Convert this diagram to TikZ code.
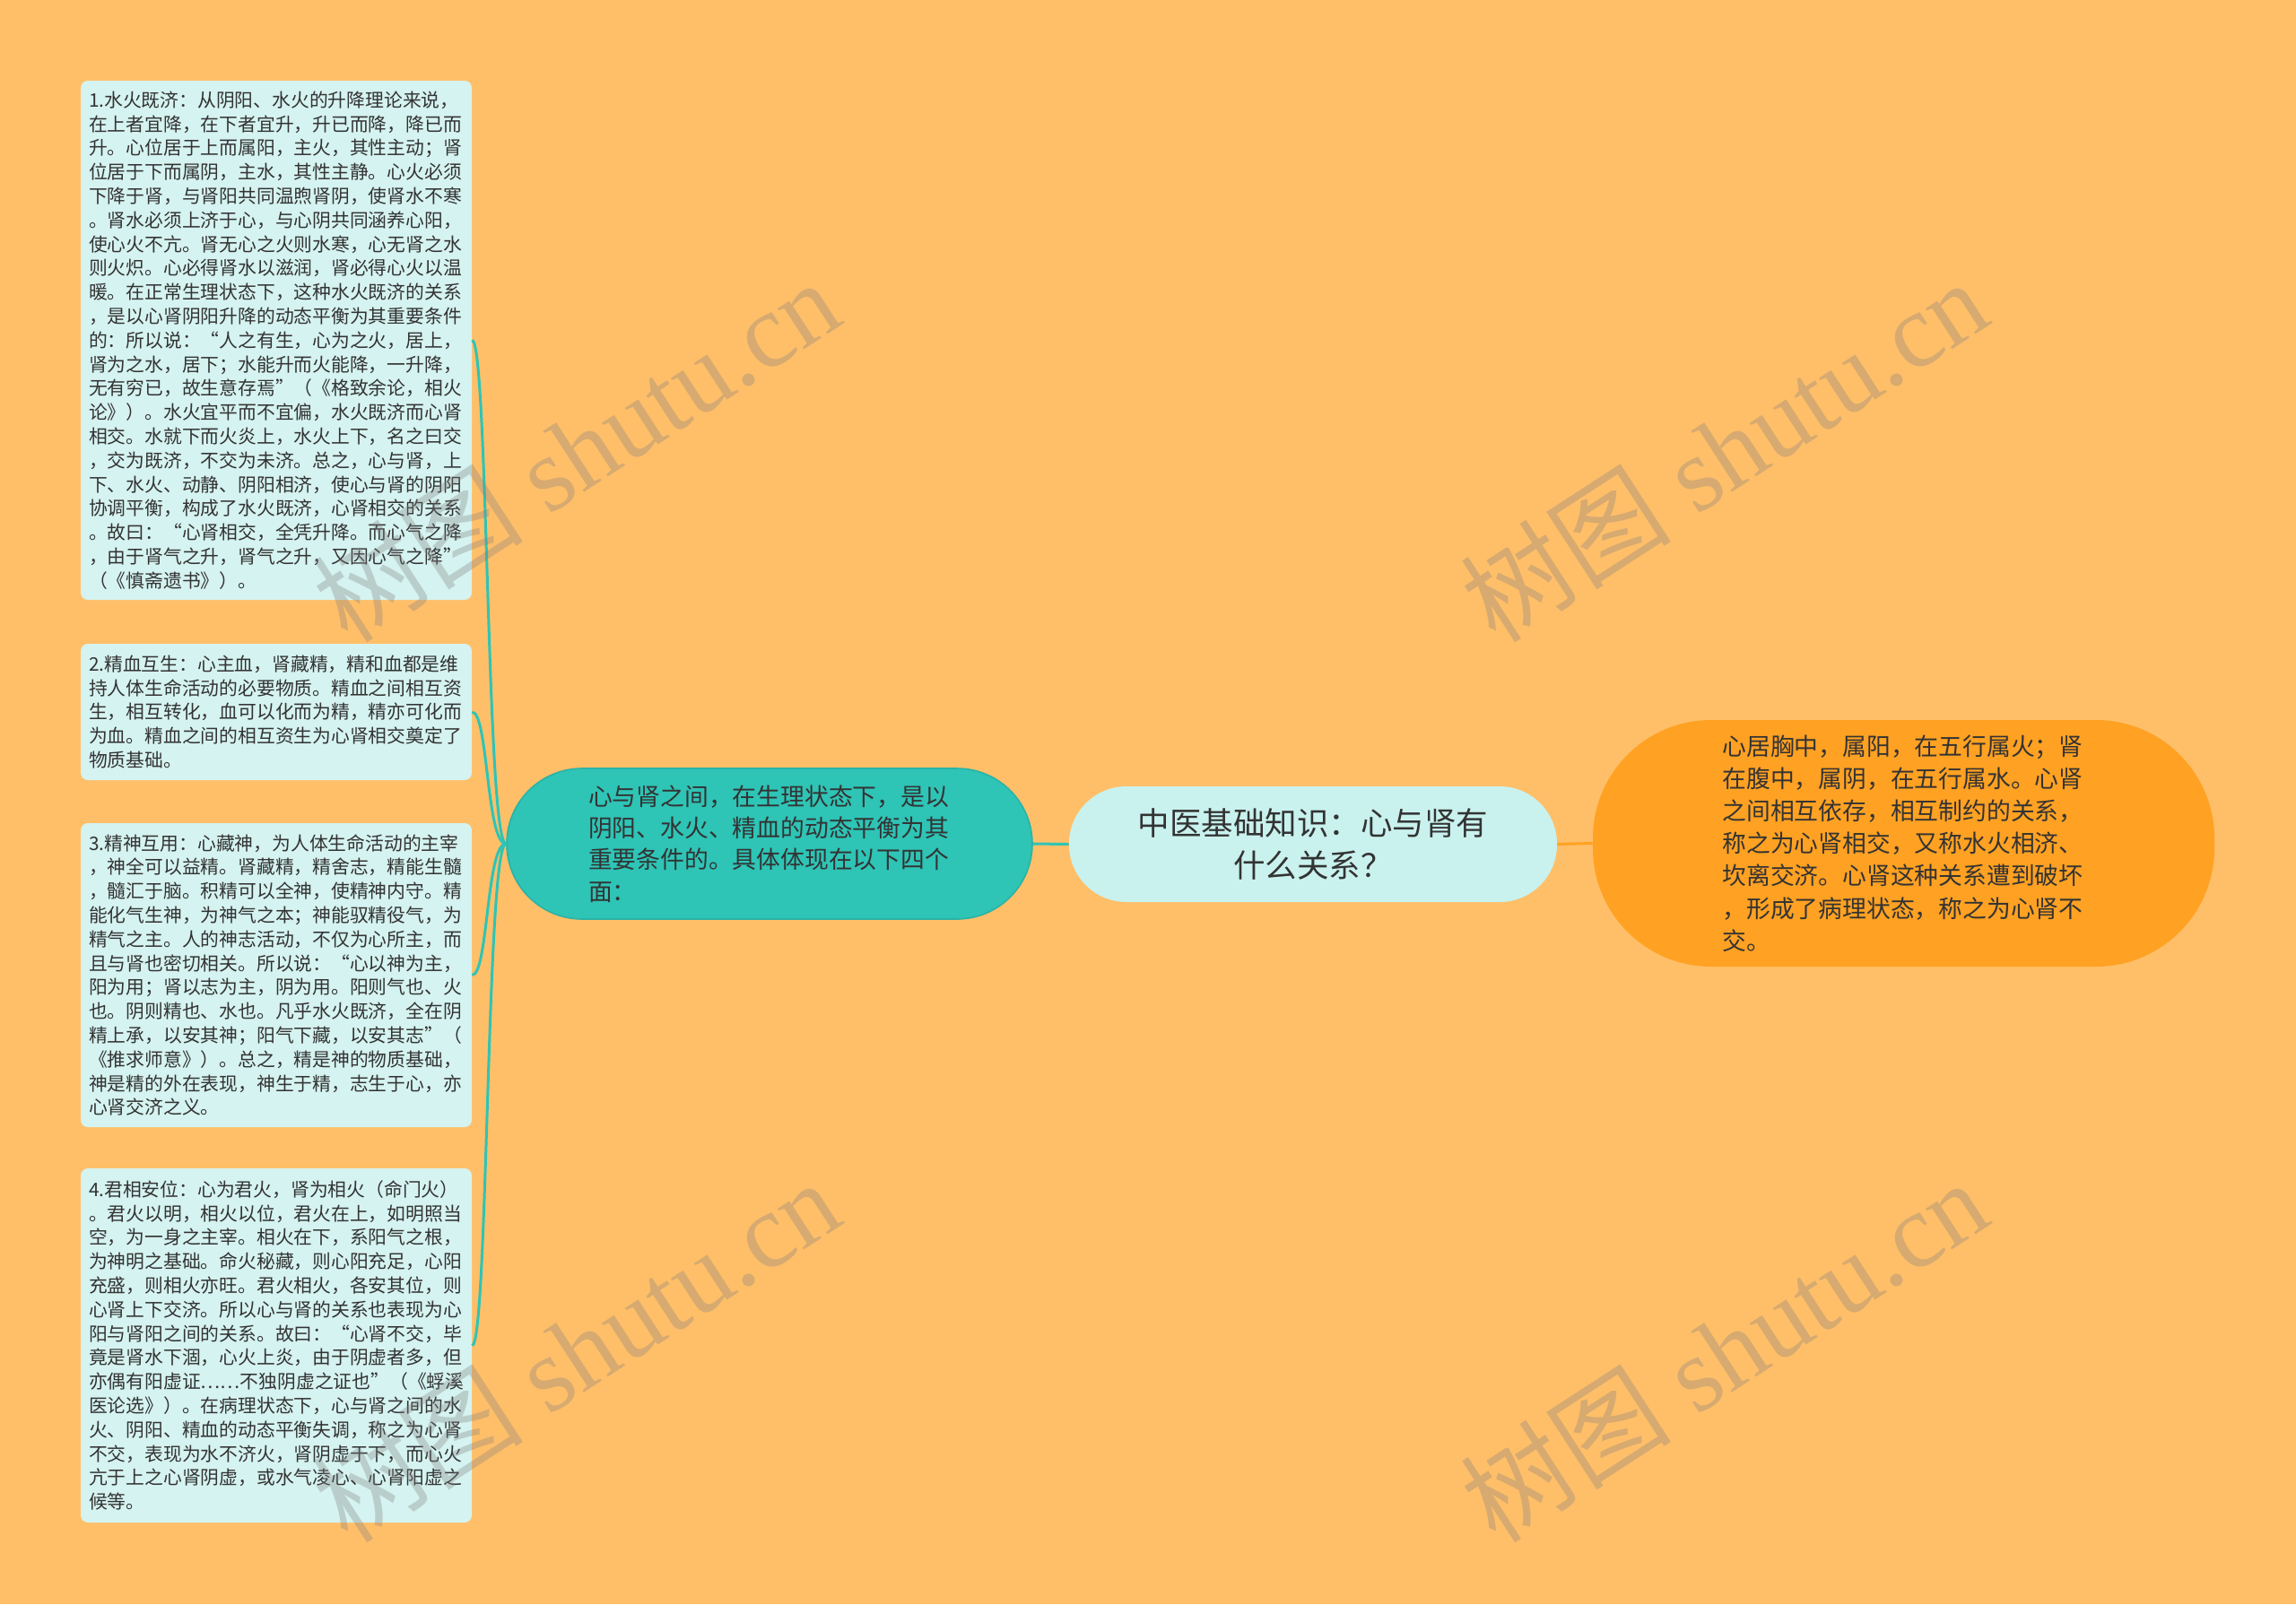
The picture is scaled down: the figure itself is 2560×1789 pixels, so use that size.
\documentclass[tikz,border=0pt]{standalone}
\usepackage{fontspec}
\setmainfont{Noto Sans CJK SC}
\newfontfamily\wmlatin{Liberation Serif}
\newfontfamily\wmcjk{Noto Sans CJK SC}
\definecolor{bgc}{HTML}{FFBF69}
\definecolor{leaffill}{HTML}{D5F3F0}
\definecolor{centfill}{HTML}{C9F2EE}
\definecolor{tealc}{HTML}{2EC4B6}
\definecolor{tealedge}{HTML}{2BB3A6}
\definecolor{orangec}{HTML}{FFA122}
\definecolor{textdark}{HTML}{333333}
\begin{document}
\begin{tikzpicture}[x=0.5pt,y=-0.5pt,
  leafbox/.style={fill=leaffill, rounded corners=4pt, text width=209pt, inner xsep=4.5pt, inner ysep=0pt,
    align=left, text=textdark, font={\fontsize{10.4pt}{13.4pt}\selectfont}},
  tealbox/.style={fill=tealc, draw=tealedge, line width=0.8pt, rounded corners=42pt, text width=202pt,
    inner xsep=45.5pt, inner ysep=0pt, minimum height=84pt, align=left, text=textdark,
    font={\fontsize{13.4pt}{17.7pt}\selectfont}},
  centbox/.style={fill=centfill, rounded corners=32pt, text width=200pt, inner xsep=36pt, inner ysep=0pt,
    minimum height=64.5pt, align=center, text=textdark, font={\fontsize{17.75pt}{23.5pt}\selectfont}},
  orangebox/.style={fill=orangec, rounded corners=66pt, text width=202pt, inner xsep=72.25pt, inner ysep=0pt,
    minimum height=137.5pt, align=left, text=textdark, font={\fontsize{13.4pt}{18.1pt}\selectfont}},
  tealline/.style={draw=tealc, line width=1.5pt},
  orangeline/.style={draw=orangec, line width=1.5pt},
  watermark/.style={text=gray, opacity=0.32, rotate=33, inner sep=0pt,
    font={\fontsize{59pt}{59pt}\selectfont}}
]
\useasboundingbox (0,0) rectangle (2560,1789);
\fill[bgc] (0,0) rectangle (2560,1789);

\node[leafbox, minimum height=289.5pt] (b1) at (308,379.5) {1.水火既济：从阴阳、水火的升降理论来说，\\在上者宜降，在下者宜升，升已而降，降已而\\升。心位居于上而属阳，主火，其性主动；肾\\位居于下而属阴，主水，其性主静。心火必须\\下降于肾，与肾阳共同温煦肾阴，使肾水不寒\\。肾水必须上济于心，与心阴共同涵养心阳，\\使心火不亢。肾无心之火则水寒，心无肾之水\\则火炽。心必得肾水以滋润，肾必得心火以温\\暖。在正常生理状态下，这种水火既济的关系\\，是以心肾阴阳升降的动态平衡为其重要条件\\的：所以说：“人之有生，心为之火，居上，\\肾为之水，居下；水能升而火能降，一升降，\\无有穷已，故生意存焉”（《格致余论，相火\\论》）。水火宜平而不宜偏，水火既济而心肾\\相交。水就下而火炎上，水火上下，名之曰交\\，交为既济，不交为未济。总之，心与肾，上\\下、水火、动静、阴阳相济，使心与肾的阴阳\\协调平衡，构成了水火既济，心肾相交的关系\\。故曰：“心肾相交，全凭升降。而心气之降\\，由于肾气之升，肾气之升，又因心气之降”\\（《慎斋遗书》）。};

\node[leafbox, minimum height=76pt] (b2) at (308,794) {2.精血互生：心主血，肾藏精，精和血都是维\\持人体生命活动的必要物质。精血之间相互资\\生，相互转化，血可以化而为精，精亦可化而\\为血。精血之间的相互资生为心肾相交奠定了\\物质基础。};

\node[leafbox, minimum height=169.5pt] (b3) at (308,1087.5) {3.精神互用：心藏神，为人体生命活动的主宰\\，神全可以益精。肾藏精，精舍志，精能生髓\\，髓汇于脑。积精可以全神，使精神内守。精\\能化气生神，为神气之本；神能驭精役气，为\\精气之主。人的神志活动，不仅为心所主，而\\且与肾也密切相关。所以说：“心以神为主，\\阳为用；肾以志为主，阴为用。阳则气也、火\\也。阴则精也、水也。凡乎水火既济，全在阴\\精上承，以安其神；阳气下藏，以安其志”（\\《推求师意》）。总之，精是神的物质基础，\\神是精的外在表现，神生于精，志生于心，亦\\心肾交济之义。};

\node[leafbox, minimum height=197.5pt] (b4) at (308,1500.5) {4.君相安位：心为君火，肾为相火（命门火）\\。君火以明，相火以位，君火在上，如明照当\\空，为一身之主宰。相火在下，系阳气之根，\\为神明之基础。命火秘藏，则心阳充足，心阳\\充盛，则相火亦旺。君火相火，各安其位，则\\心肾上下交济。所以心与肾的关系也表现为心\\阳与肾阳之间的关系。故曰：“心肾不交，毕\\竟是肾水下涸，心火上炎，由于阴虚者多，但\\亦偶有阳虚证……不独阴虚之证也”（《蜉溪\\医论选》）。在病理状态下，心与肾之间的水\\火、阴阳、精血的动态平衡失调，称之为心肾\\不交，表现为水不济火，肾阴虚于下，而心火\\亢于上之心肾阴虚，或水气凌心、心肾阳虚之\\候等。};

\node[tealbox] (teal) at (858,941) {心与肾之间，在生理状态下，是以\\阴阳、水火、精血的动态平衡为其\\重要条件的。具体体现在以下四个\\面：};

\node[centbox] (cent) at (1464,941.5) {中医基础知识：心与肾有\\什么关系？};

\node[orangebox] (right) at (2122.5,940.5) {心居胸中，属阳，在五行属火；肾\\在腹中，属阴，在五行属水。心肾\\之间相互依存，相互制约的关系，\\称之为心肾相交，又称水火相济、\\坎离交济。心肾这种关系遭到破坏\\，形成了病理状态，称之为心肾不\\交。};

\draw[tealline] (cent.west) -- (teal.east);
\draw[orangeline] (cent.east) -- (right.west);
\foreach \b in {b1,b2,b3,b4}{
  \draw[tealline] (teal.west) .. controls +(-22,0) and +(18,0) .. (\b.east);
}

\node[watermark] (wm1) at (642,502) {\wmcjk 树图\wmlatin{} shutu.cn};
\node[watermark] (wm2) at (1922,502) {\wmcjk 树图\wmlatin{} shutu.cn};
\node[watermark] (wm3) at (642,1506) {\wmcjk 树图\wmlatin{} shutu.cn};
\node[watermark] (wm4) at (1922,1506) {\wmcjk 树图\wmlatin{} shutu.cn};
\end{tikzpicture}
\end{document}
